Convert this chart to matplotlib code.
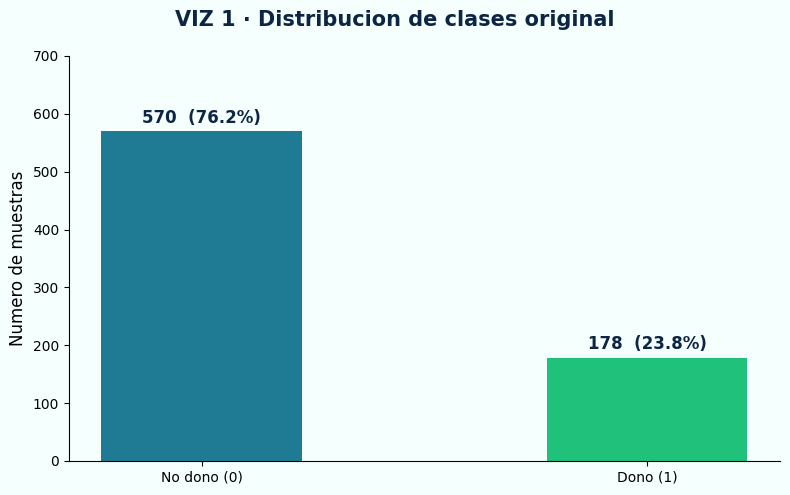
import matplotlib.pyplot as plt

categories = ["No dono (0)", "Dono (1)"]
counts = [570, 178]
colors = ["#1F7B93", "#20C17B"]

total = sum(counts)

fig = plt.figure(figsize=(7.9, 4.95), dpi=100, facecolor="#F5FFFE")
ax = fig.add_axes([0.0873, 0.0687, 0.8997, 0.8183])
ax.set_facecolor("#F5FFFE")

x = range(len(categories))
bars = ax.bar(x, counts, width=0.45, color=colors)

# value labels
for b, c in zip(bars, counts):
    ax.text(b.get_x() + b.get_width() / 2, c + 8, f"{c}  ({c / total * 100:.1f}%)",
            ha="center", va="bottom", fontsize=12, fontweight="bold", color="#0D2545")

ax.set_xticks(list(x))
ax.set_xticklabels(categories)
ax.set_ylim(0, 700)
ax.set_ylabel("Numero de muestras", fontsize=12)
ax.spines["top"].set_visible(False)
ax.spines["right"].set_visible(False)

fig.suptitle("VIZ 1 · Distribucion de clases original", fontsize=15, fontweight="bold",
             color="#0D2545", y=0.98)

fig.savefig("out.png", dpi=100, facecolor=fig.get_facecolor())
